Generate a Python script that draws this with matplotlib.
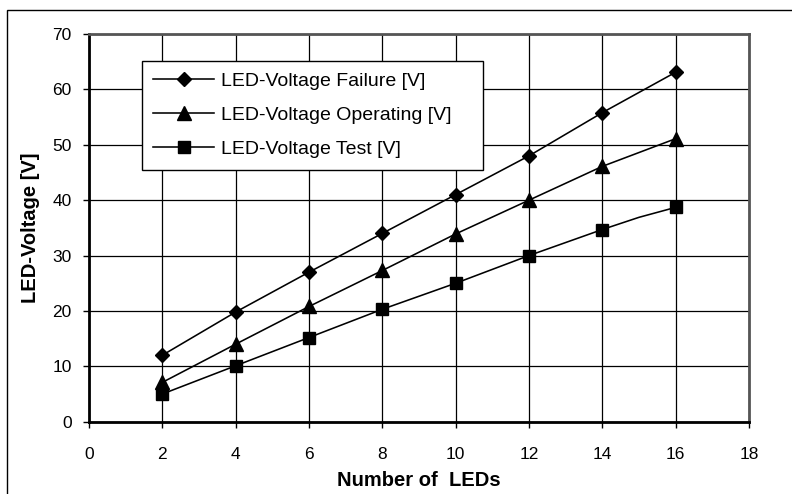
import matplotlib
matplotlib.use('Agg')
import matplotlib.pyplot as plt
from matplotlib.patches import Rectangle

plt.rcParams['font.family'] = ['Liberation Sans', 'DejaVu Sans']

# number of LEDs in the string
n_leds = [2, 4, 6, 8, 10, 12, 14, 16]
failure_v = [12, 19.8, 27.0, 34.0, 41.0, 48.0, 55.8, 63.1]
operating_v = [7.1, 14.0, 20.8, 27.3, 33.9, 40.0, 46.1, 51.1]
# the test curve has one extra point (no marker) at 15 LEDs
test_n = [2, 4, 6, 8, 10, 12, 14, 15, 16]
test_v = [5.0, 10.1, 15.2, 20.3, 25.0, 30.0, 34.7, 36.9, 38.7]

labels = ['LED-Voltage Failure [V]', 'LED-Voltage Operating [V]', 'LED-Voltage Test [V]']

W, H = 792, 494
fig = plt.figure(figsize=(W / 100, H / 100), dpi=100)
ax = fig.add_axes([89 / W, 1 - 421.7 / H, 660 / W, 387.7 / H])

ax.plot(n_leds, failure_v, color='black', lw=1.15, marker='D', ms=7.5, label=labels[0])
ax.plot(n_leds, operating_v, color='black', lw=1.15, marker='^', ms=9.5, label=labels[1])
ax.plot(test_n, test_v, color='black', lw=1.15, marker='s', ms=8.5,
        markevery=[0, 1, 2, 3, 4, 5, 6, 8], label=labels[2])

ax.set_xlim(0, 18)
ax.set_ylim(0, 70)
ax.set_xticks(range(0, 19, 2))
ax.set_yticks(range(0, 71, 10))
ax.grid(True, color='black', lw=0.9)
ax.set_axisbelow(True)
ax.tick_params(direction='out', length=4.5, width=1, labelsize=12.5)
ax.tick_params(axis='x', pad=14)
ax.tick_params(axis='y', pad=8)

for side in ['left', 'bottom']:
    ax.spines[side].set_linewidth(2)
    ax.spines[side].set_color('black')
for side in ['top', 'right']:
    ax.spines[side].set_linewidth(2)
    ax.spines[side].set_color('#555555')

ax.set_xlabel('Number of  LEDs', fontsize=14.5, fontweight='bold', labelpad=6)
ax.set_ylabel('LED-Voltage [V]', fontsize=14.5, fontweight='bold', labelpad=9)

leg_box = (141.7 / W, 1 - 170 / H, (483.3 - 141.7) / W, (170 - 60.7) / H)
leg = ax.legend(loc='upper left', bbox_to_anchor=leg_box, mode='expand',
                bbox_transform=fig.transFigure, fontsize=14, frameon=True,
                fancybox=False, shadow=False, handlelength=3.1, labelspacing=0.84,
                borderpad=0.6, handletextpad=0.4, borderaxespad=0)
leg.get_frame().set_edgecolor('black')
leg.get_frame().set_linewidth(1)
leg.get_frame().set_alpha(1)

# outer chart border
fig.patches.append(Rectangle((7.3 / W, -0.05), 1.1, 1 - 10 / H + 0.05,
                             transform=fig.transFigure, fill=False,
                             edgecolor='black', lw=1))

fig.savefig('out.png', dpi=100)
